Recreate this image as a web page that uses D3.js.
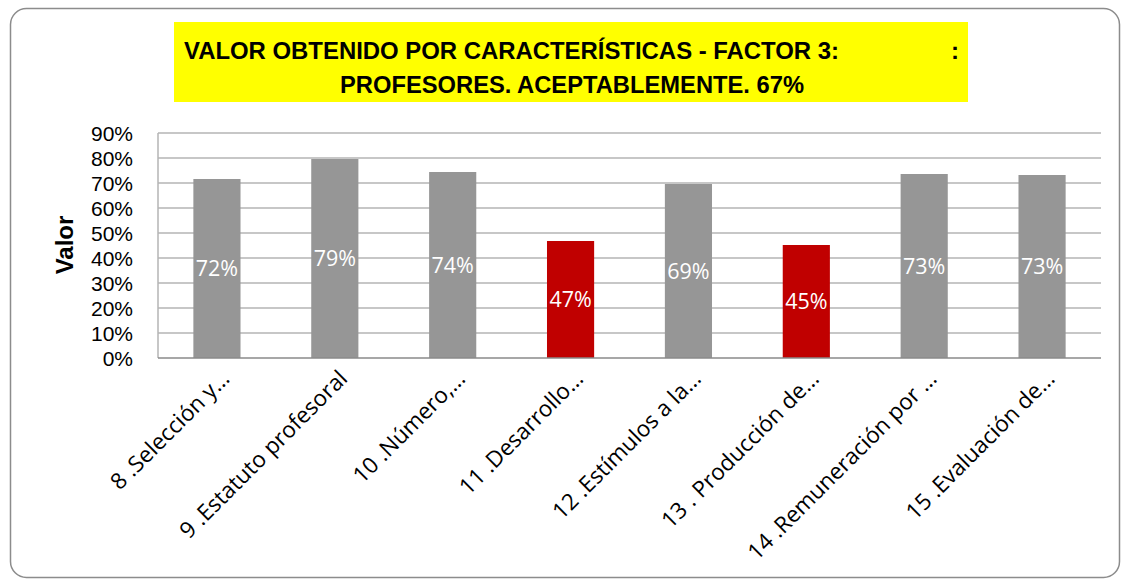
<!DOCTYPE html>
<html><head><meta charset="utf-8">
<script src="https://cdn.jsdelivr.net/npm/d3@7"></script>
<style>body{margin:0;background:#fff}svg{display:block}</style>
</head><body>
<script>
const categories = ["8 .Selección y…","9 .Estatuto profesoral","10 .Número,…","11 .Desarrollo…","12 .Estímulos a la…","13 . Producción de…","14 .Remuneración por …","15 .Evaluación de…"];
const values = [0.716, 0.796, 0.744, 0.468, 0.696, 0.452, 0.736, 0.732];
const labels = ["72%","79%","74%","47%","69%","45%","73%","73%"];
const highlight = [false,false,false,true,false,true,false,false];
const yTicks = [0,0.1,0.2,0.3,0.4,0.5,0.6,0.7,0.8,0.9];
const titleLines = ["VALOR OBTENIDO POR CARACTERÍSTICAS - FACTOR 3:", "PROFESORES. ACEPTABLEMENTE. 67%"];

const W=1125,H=582;
const svg=d3.select("body").append("svg").attr("width",W).attr("height",H);
svg.append("rect").attr("x",10.5).attr("y",8.5).attr("width",1109).attr("height",569).attr("rx",16)
  .attr("fill","#fff").attr("stroke","#8c8c8c").attr("stroke-width",1.5);

const font="'Liberation Sans', Arial, sans-serif";
const font2="'Open Sans', sans-serif";
// title
svg.append("rect").attr("x",174).attr("y",22).attr("width",794).attr("height",80).attr("fill","#ffff00");
svg.append("text").attr("x",184).attr("y",59).attr("font-family",font).attr("font-weight","bold").attr("font-size",24)
  .attr("textLength",655).attr("lengthAdjust","spacingAndGlyphs").text(titleLines[0]);
svg.append("text").attr("x",951).attr("y",59).attr("font-family",font).attr("font-weight","bold").attr("font-size",24).text(":");
svg.append("text").attr("x",340).attr("y",93).attr("font-family",font).attr("font-weight","bold").attr("font-size",24)
  .attr("textLength",464).attr("lengthAdjust","spacingAndGlyphs").text(titleLines[1]);

const x=d3.scaleBand().domain(categories).range([158,1101]).paddingInner(0.6).paddingOuter(0.3);
const y=d3.scaleLinear().domain([0,0.9]).range([358,133]);

// gridlines
svg.append("g").selectAll("line").data(yTicks.slice(1)).join("line")
  .attr("x1",158).attr("x2",1101).attr("y1",d=>y(d)).attr("y2",d=>y(d))
  .attr("stroke","#b4b4b4").attr("stroke-width",1.5);
svg.append("line").attr("x1",158).attr("x2",158).attr("y1",133).attr("y2",358).attr("stroke","#b4b4b4").attr("stroke-width",1.5);

// y axis labels
const ya=svg.append("g").attr("transform","translate(158,0)").call(d3.axisLeft(y).tickValues(yTicks).tickFormat(d3.format(".0%")).tickSize(0).tickPadding(25));
ya.select(".domain").remove();
ya.selectAll("text").attr("font-family",font).attr("font-size",21).attr("fill","#000").attr("dy","0.35em");

svg.append("text").attr("transform","translate(73,245) rotate(-90)").attr("text-anchor","middle")
  .attr("font-family",font).attr("font-weight","bold").attr("font-size",24).text("Valor");

// bars
svg.append("g").selectAll("rect").data(values).join("rect")
  .attr("x",(d,i)=>x(categories[i])).attr("width",x.bandwidth())
  .attr("y",d=>y(d)).attr("height",d=>y(0)-y(d))
  .attr("fill",(d,i)=>highlight[i]?"#c00000":"#969696");

svg.append("g").selectAll("text").data(values).join("text")
  .attr("x",(d,i)=>x(categories[i])+x.bandwidth()/2).attr("y",d=>(y(d)+y(0))/2)
  .attr("dy","0.35em").attr("text-anchor","middle").attr("fill","#fff")
  .attr("font-family",font2).attr("font-size",21.5).text((d,i)=>labels[i]);

// baseline
svg.append("line").attr("x1",158).attr("x2",1101).attr("y1",358).attr("y2",358).attr("stroke","#8a8a8a").attr("stroke-width",1.5);

// x labels
svg.append("g").selectAll("text").data(categories).join("text")
  .attr("transform",d=>`translate(${x(d)+x.bandwidth()/2+14},${380}) rotate(-45)`)
  .attr("text-anchor","end").attr("font-family",font2).attr("font-size",22.5).attr("fill","#000").text(d=>d);
</script>
</body></html>
